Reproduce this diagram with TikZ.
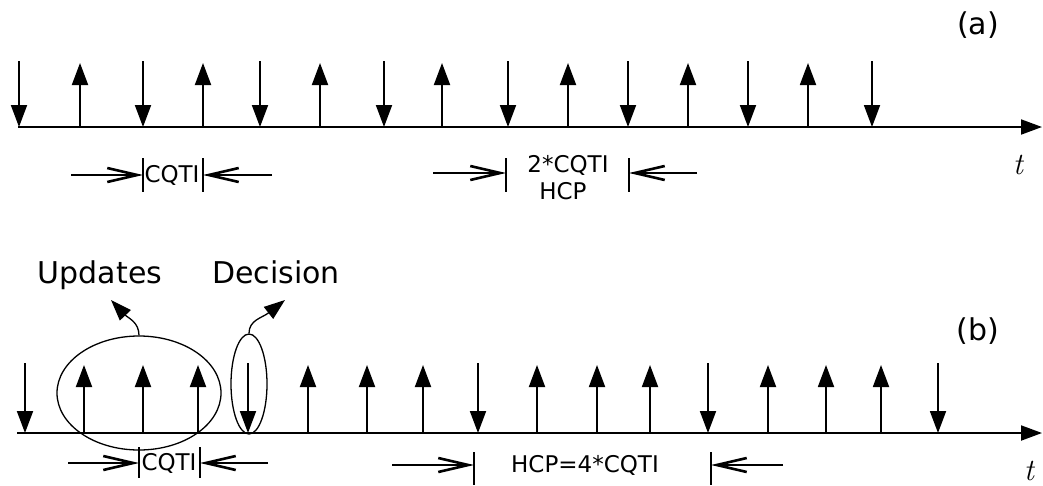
\documentclass[tikz,border=0pt]{standalone}
\usepackage{fontspec}
\setmainfont{DejaVu Sans}
\newfontfamily\lmfont{Latin Modern Roman}
\usetikzlibrary{arrows.meta,positioning,shapes.geometric}

\begin{document}
\begin{tikzpicture}[
  x=1pt, y=-1pt,
  font=\fontsize{23}{27}\selectfont,
  axis/.style={-{Triangle[length=21pt,width=15pt]}, line width=1.9pt},
  pulse/.style={-{Triangle[length=22pt,width=16pt]}, line width=1.9pt},
  dim/.style={-{Straight Barb[length=30pt,width=14pt,line width=2.6pt]}, line width=1.5pt},
  bar/.style={line width=1.5pt},
  ring/.style={draw, ellipse, line width=1.3pt, inner sep=0pt},
  curl/.style={-{Triangle[length=21pt,width=15pt]}, line width=1.3pt},
  lbl/.style={font=\fontsize{30}{35}\selectfont},
  tvar/.style={font=\fontsize{31}{36}\lmfont\itshape}
]
\useasboundingbox (0,0) rectangle (1043,485);

% (a)
\coordinate (a0) at (18,127);
\coordinate (a1) at (1042,127);
\draw[axis] (a0) -- (a1);
\foreach \x in {19,143,260,384,508,628,748,872}
  \draw[pulse] (\x,61) -- (\x,127);
\foreach \x in {80,203,320,442,568,688,808}
  \draw[pulse] (\x,127) -- (\x,63);
\node[lbl] (tagA) at (978,25) {(a)};
\node[tvar] (tA) at (1018,165) {t};

\draw[bar] (143,158) -- (143,192);
\draw[bar] (203,158) -- (203,192);
\coordinate (cqA1) at (143,175);
\coordinate (cqA2) at (203,175);
\coordinate (cqAl) at (71,175);
\coordinate (cqAr) at (272,175);
\node (cqtiA) at (172,175) {CQTI};
\draw[dim] (cqAl) -- (cqA1);
\draw[dim] (cqAr) -- (cqA2);

\draw[bar] (506,158) -- (506,192);
\draw[bar] (629,158) -- (629,192);
\coordinate (hcA1) at (506,173);
\coordinate (hcA2) at (629,173);
\coordinate (hcAl) at (433,173);
\coordinate (hcAr) at (697,173);
\node (twice) at (568,165) {2*CQTI};
\node (hcpA) at (563,191) {HCP};
\draw[dim] (hcAl) -- (hcA1);
\draw[dim] (hcAr) -- (hcA2);

% (b)
\coordinate (b0) at (17,433);
\coordinate (b1) at (1042,433);
\draw[axis] (b0) -- (b1);
\foreach \x in {25,248,478,708,938}
  \draw[pulse] (\x,363) -- (\x,433);
\foreach \x in {84,143,198,308,367,423,537,597,650,768,826,881}
  \draw[pulse] (\x,433) -- (\x,365);
\node[lbl] (tagB) at (978,331) {(b)};
\node[tvar] (tB) at (1029,471) {t};

\node[ring, minimum width=164pt, minimum height=114pt] (upd) at (139,393) {};
\node[ring, minimum width=36pt, minimum height=100pt] (dec) at (249,384) {};
\coordinate (updTip) at (111,300);
\coordinate (decTip) at (285,300);
\draw[curl] (upd.north) .. controls (139,322) and (128,318) .. (updTip);
\draw[curl] (dec.north) .. controls (249,320) and (262,318) .. (decTip);
\node[lbl, anchor=base] (updates) at (100,283) {Updates};
\node[lbl, anchor=base] (decision) at (276,283) {Decision};

\draw[bar] (139,447) -- (139,478);
\draw[bar] (200,447) -- (200,478);
\coordinate (cqB1) at (139,463);
\coordinate (cqB2) at (200,463);
\coordinate (cqBl) at (68,463);
\coordinate (cqBr) at (268,463);
\node (cqtiB) at (169,463) {CQTI};
\draw[dim] (cqBl) -- (cqB1);
\draw[dim] (cqBr) -- (cqB2);

\draw[bar] (474,452) -- (474,485);
\draw[bar] (711,452) -- (711,485);
\coordinate (hcB1) at (474,465);
\coordinate (hcB2) at (711,465);
\coordinate (hcBl) at (392,465);
\coordinate (hcBr) at (783,465);
\node (hcpB) at (585,465) {HCP=4*CQTI};
\draw[dim] (hcBl) -- (hcB1);
\draw[dim] (hcBr) -- (hcB2);
\end{tikzpicture}
\end{document}
